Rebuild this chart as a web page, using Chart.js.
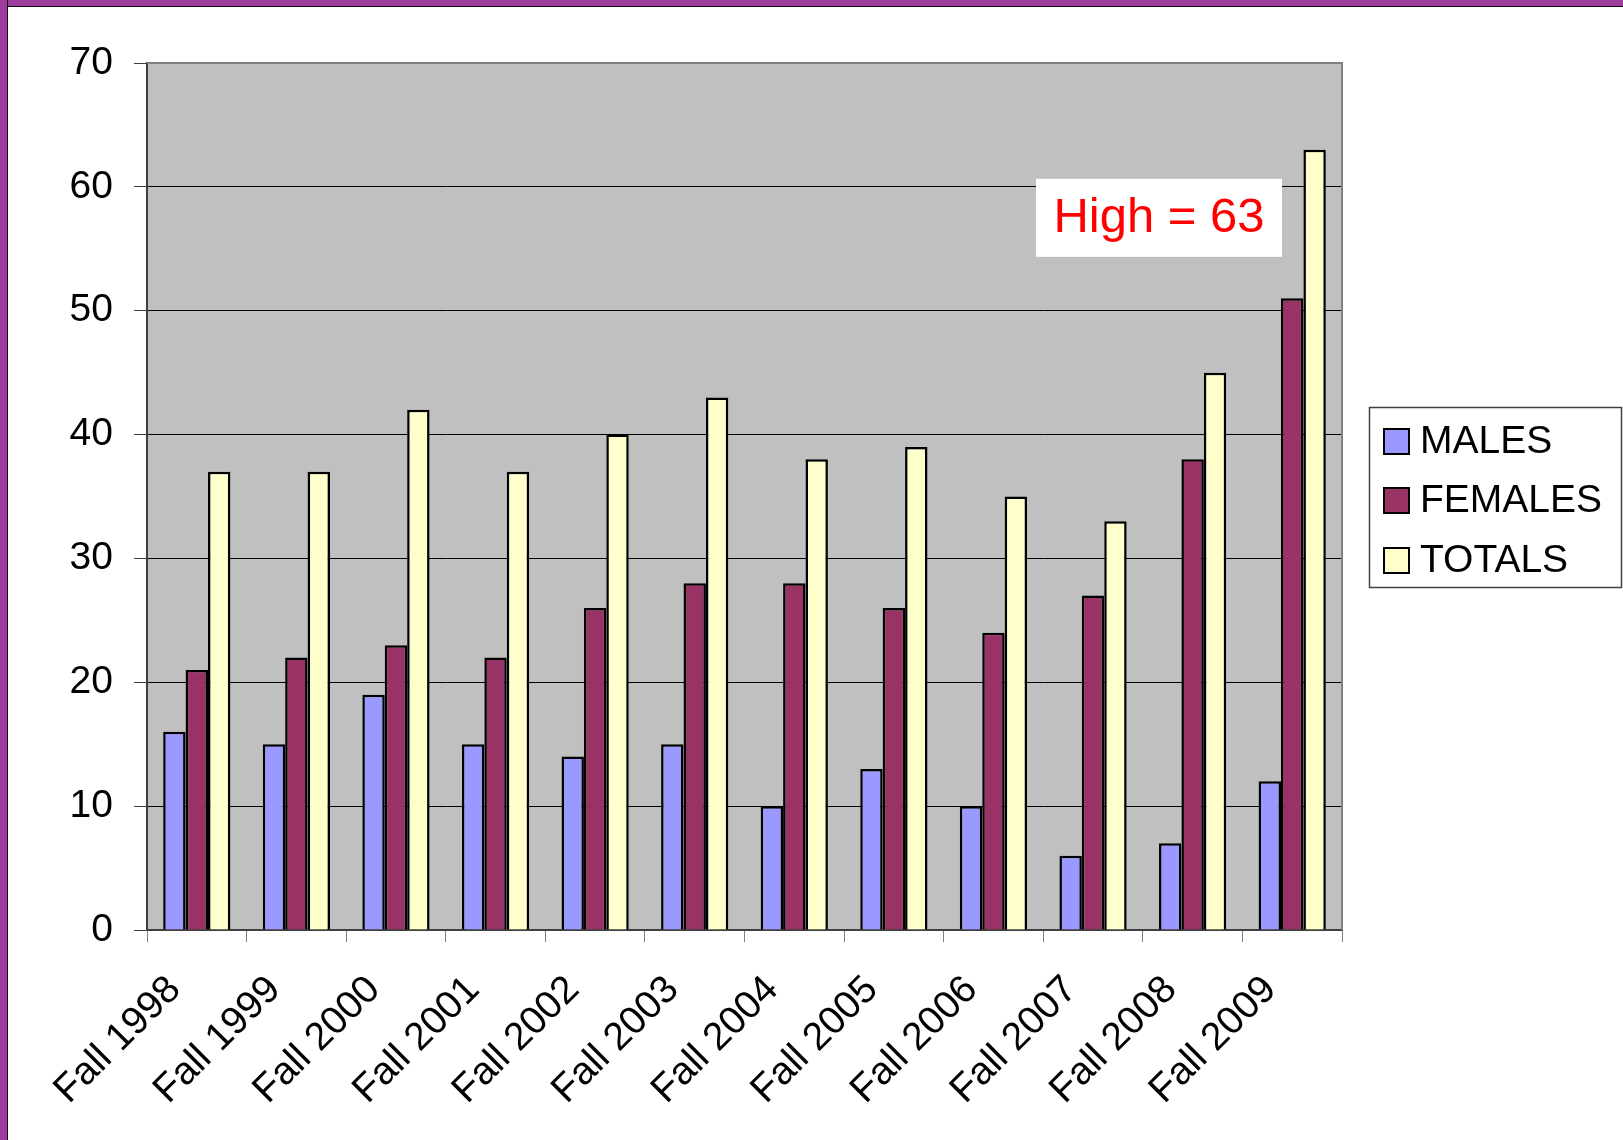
<!DOCTYPE html>
<html lang="en">
<head>
    <meta charset="UTF-8">
    <title>Fall enrollment - Males / Females / Totals</title>
    <script src="https://cdn.jsdelivr.net/npm/chart.js@4.4.1/dist/chart.umd.min.js"></script>
    <style>
        body {
            margin: 0;
            background: #ffffff;
            font-family: "Liberation Sans", Arial, sans-serif;
        }
        .frame {
            position: relative;
            width: 1623px;
            height: 1140px;
            overflow: hidden;
        }
        .edge-top {
            position: absolute; left: 0; top: 0;
            width: 100%; height: 6px;
            background: #a03ca0;
            border-bottom: 1px solid #111;
        }
        .edge-left {
            position: absolute; left: 0; top: 0;
            width: 7px; height: 100%;
            background: #a03ca0;
            border-right: 1px solid #111;
        }
    </style>
</head>
<body>
    <div class="frame">
        <canvas id="enrollChart" width="1623" height="1140"></canvas>
        <div class="edge-top"></div>
        <div class="edge-left"></div>
    </div>

    <script>
        // Data
        const terms = ["Fall 1998", "Fall 1999", "Fall 2000", "Fall 2001", "Fall 2002", "Fall 2003",
                       "Fall 2004", "Fall 2005", "Fall 2006", "Fall 2007", "Fall 2008", "Fall 2009"];
        const males   = [16, 15, 19, 15, 14, 15, 10, 13, 10, 6, 7, 12];
        const females = [21, 22, 23, 22, 26, 28, 28, 26, 24, 27, 38, 51];
        const totals  = [37, 37, 42, 37, 40, 43, 38, 39, 35, 33, 45, 63];
        const yTicks  = [0, 10, 20, 30, 40, 50, 60, 70];
        const highNote = "High = 63";

        const FONT = '"Liberation Sans", Arial, sans-serif';

        // grey plot area + border
        const plotArea = {
            id: 'plotArea',
            beforeDraw(chart) {
                const { ctx, chartArea: a } = chart;
                ctx.save();
                ctx.fillStyle = '#c0c0c0';
                ctx.fillRect(a.left, a.top, a.right - a.left, a.bottom - a.top);
                ctx.restore();
            },
            beforeDatasetsDraw(chart) {
                const { ctx, chartArea: a } = chart;
                ctx.save();
                ctx.strokeStyle = '#808080';
                ctx.lineWidth = 2;
                ctx.beginPath();
                ctx.moveTo(a.left, a.top);
                ctx.lineTo(a.right, a.top);
                ctx.lineTo(a.right, a.bottom);
                ctx.stroke();
                ctx.restore();
            }
        };

        // boxed legend on the right + the "High" note
        const extras = {
            id: 'extras',
            afterDraw(chart) {
                const ctx = chart.ctx;
                ctx.save();

                // legend box
                ctx.fillStyle = '#ffffff';
                ctx.fillRect(1369, 407, 253, 181);
                ctx.strokeStyle = '#404040';
                ctx.lineWidth = 1.5;
                ctx.strokeRect(1369.5, 407.5, 252, 180);

                const rowY = [441, 500, 560];
                chart.data.datasets.forEach((ds, i) => {
                    const y = rowY[i];
                    ctx.fillStyle = ds.backgroundColor;
                    ctx.fillRect(1384, y - 12, 25, 25);
                    ctx.strokeStyle = '#000';
                    ctx.lineWidth = 2;
                    ctx.strokeRect(1384, y - 12, 25, 25);
                    ctx.fillStyle = '#000';
                    ctx.font = '39px ' + FONT;
                    ctx.textAlign = 'left';
                    ctx.textBaseline = 'middle';
                    ctx.fillText(ds.label, 1420, y + 1);
                });

                // high note, placed next to the top bar
                const y = chart.scales.y;
                const noteY = y.getPixelForValue(57.5);
                ctx.fillStyle = '#ffffff';
                ctx.fillRect(1036, noteY - 39, 246, 78);
                ctx.fillStyle = '#ff0000';
                ctx.font = '49px ' + FONT;
                ctx.textAlign = 'center';
                ctx.textBaseline = 'middle';
                ctx.fillText(highNote, 1159, noteY + 1);

                ctx.restore();
            }
        };

        const ctx = document.getElementById('enrollChart').getContext('2d');
        new Chart(ctx, {
            type: 'bar',
            data: {
                labels: terms,
                datasets: [
                    { label: 'MALES',   data: males,   backgroundColor: '#9999ff' },
                    { label: 'FEMALES', data: females, backgroundColor: '#993366' },
                    { label: 'TOTALS',  data: totals,  backgroundColor: '#ffffcc' }
                ].map(d => Object.assign(d, {
                    borderColor: '#000000',
                    borderWidth: 2.5,
                    categoryPercentage: 0.675,
                    barPercentage: 1.0
                }))
            },
            options: {
                responsive: false,
                animation: false,
                devicePixelRatio: 1,
                layout: { padding: { top: 63, right: 281, left: 0, bottom: 0 } },
                plugins: {
                    legend: { display: false },
                    tooltip: { enabled: false }
                },
                scales: {
                    x: {
                        afterFit(scale) { scale.height = 210; },
                        grid: {
                            offset: true,
                            drawOnChartArea: false,
                            tickLength: 12,
                            tickColor: '#808080'
                        },
                        border: { color: '#404040', width: 2 },
                        ticks: {
                            maxRotation: 45,
                            minRotation: 45,
                            labelOffset: -22,
                            padding: 25,
                            color: '#000',
                            font: { family: FONT, size: 39 }
                        }
                    },
                    y: {
                        min: 0,
                        max: 70,
                        afterFit(scale) { scale.width = 147; },
                        afterBuildTicks(scale) { scale.ticks = yTicks.map(v => ({ value: v })); },
                        grid: {
                            color: c => (c.tick && c.tick.value === 70) ? '#808080' : '#000000',
                            lineWidth: 1,
                            tickLength: 13,
                            tickColor: '#404040'
                        },
                        border: { color: '#404040', width: 2 },
                        ticks: {
                            padding: 21,
                            color: '#000',
                            font: { family: FONT, size: 39 }
                        }
                    }
                }
            },
            plugins: [plotArea, extras]
        });
    </script>
</body>
</html>
